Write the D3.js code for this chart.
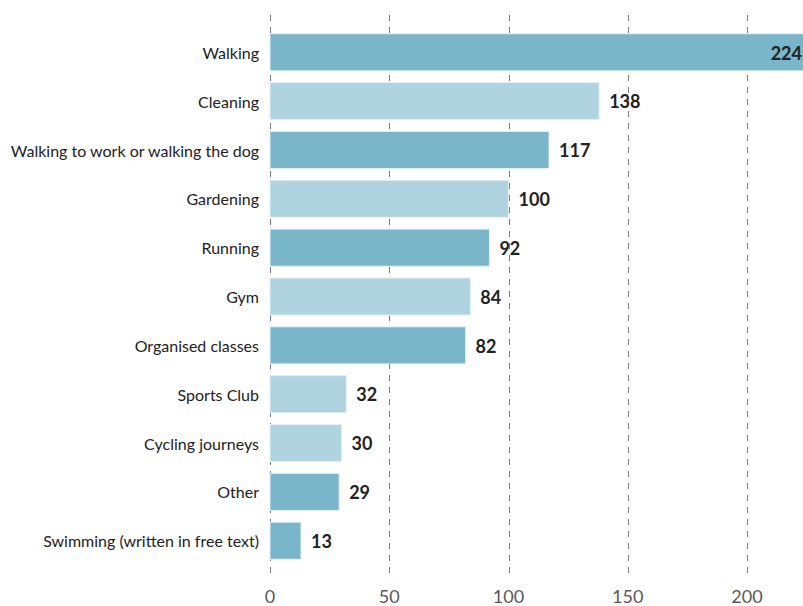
<!DOCTYPE html>
<html>
<head>
<meta charset="utf-8">
<script src="https://cdn.jsdelivr.net/npm/d3@7"></script>
<style>
  body { margin: 0; background: #fff; }
  svg { display: block; font-family: Lato, "Open Sans", sans-serif; }
</style>
</head>
<body>
<script>
// categories, top to bottom
var categories = [
    'Walking',
    'Cleaning',
    'Walking to work or walking the dog',
    'Gardening',
    'Running',
    'Gym',
    'Organised classes',
    'Sports Club',
    'Cycling journeys',
    'Other',
    'Swimming (written in free text)'
];

// number of responses per activity
var counts = [224, 138, 117, 100, 92, 84, 82, 32, 30, 29, 13];

// x axis ticks
var ticks = [0, 50, 100, 150, 200];

// two shades of blue used by the bars
var shades = ['dark', 'light', 'dark', 'light', 'dark', 'light', 'dark', 'light', 'light', 'dark', 'dark'];
var colour = { dark: '#7ab6c9', light: '#b0d4df' };

var width = 803,
    height = 606;

var svg = d3.select('body')
    .append('svg')
    .attr('width', width)
    .attr('height', height);

// x runs past the right edge, so the 224 bar gets clipped like the original
var x = d3.scaleLinear()
    .domain([0, 200])
    .range([270, 747]);

var y = d3.scaleBand()
    .domain(categories)
    .range([22, 571])
    .padding(0.24);

// dashed gridlines
svg.append('g')
    .selectAll('line')
    .data(ticks)
    .enter().append('line')
        .attr('x1', function(d) { return Math.round(x(d)) + 0.5; })
        .attr('x2', function(d) { return Math.round(x(d)) + 0.5; })
        .attr('y1', 15)
        .attr('y2', 577)
        .attr('stroke', '#777')
        .attr('stroke-width', 1)
        .attr('stroke-dasharray', '6,6');

// bars
svg.append('g')
    .selectAll('rect')
    .data(counts)
    .enter().append('rect')
        .attr('x', x(0))
        .attr('y', function(d, i) { return y(categories[i]); })
        .attr('width', function(d) { return x(d) - x(0); })
        .attr('height', y.bandwidth())
        .attr('fill', function(d, i) { return colour[shades[i]]; })
        .attr('stroke', '#e4f0f4')
        .attr('stroke-width', 1);

// category labels
svg.append('g')
    .selectAll('text')
    .data(categories)
    .enter().append('text')
        .attr('x', 259)
        .attr('y', function(d) { return y(d) + y.bandwidth() / 2 + 1; })
        .attr('dy', '0.35em')
        .attr('text-anchor', 'end')
        .attr('fill', '#222')
        .style('font-size', '16px')
        .text(function(d) { return d; });

// value labels, pushed inside the bar when there's no room
svg.append('g')
    .selectAll('text')
    .data(counts)
    .enter().append('text')
        .attr('x', function(d) {
            return x(d) + 10 > width - 30 ? width - 1 : x(d) + 10;
        })
        .attr('y', function(d, i) { return y(categories[i]) + y.bandwidth() / 2 + 1; })
        .attr('dy', '0.35em')
        .attr('text-anchor', function(d) { return x(d) + 10 > width - 30 ? 'end' : 'start'; })
        .attr('fill', '#222')
        .style('font-size', '18px')
        .style('font-weight', 'bold')
        .text(function(d) { return d; });

// x axis tick labels
svg.append('g')
    .selectAll('text')
    .data(ticks)
    .enter().append('text')
        .attr('x', function(d) { return x(d); })
        .attr('y', 597)
        .attr('dy', '0.35em')
        .attr('text-anchor', 'middle')
        .attr('fill', '#595959')
        .style('font-size', '18px')
        .text(function(d) { return d; });
</script>
</body>
</html>
